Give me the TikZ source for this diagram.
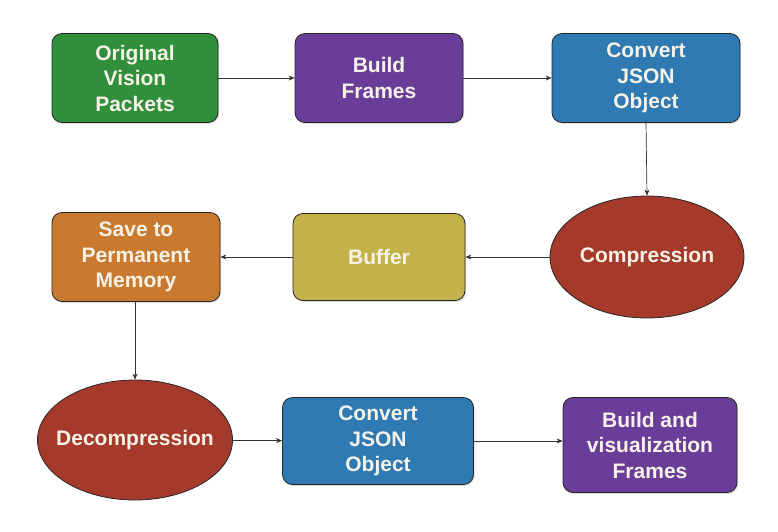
\documentclass[tikz,border=0pt]{standalone}
\usepackage{fontspec}
\setsansfont{Liberation Sans}
\usetikzlibrary{shapes.geometric, arrows.meta, positioning, shadows}

\definecolor{boxgreen}{RGB}{47,143,58}
\definecolor{boxpurple}{RGB}{106,61,152}
\definecolor{boxblue}{RGB}{47,122,179}
\definecolor{boxred}{RGB}{165,58,42}
\definecolor{boxyellow}{RGB}{195,178,74}
\definecolor{boxorange}{RGB}{201,122,46}
\definecolor{boxtext}{RGB}{246,242,232}

\begin{document}
\begin{tikzpicture}[
    x=1pt, y=-1pt,
    >={Stealth[length=6pt,width=5pt]},
    % rounded block
    block/.style={rectangle, rounded corners=10pt, draw=black!85, line width=0.8pt,
        minimum width=166pt, minimum height=89pt, inner sep=0pt, align=center,
        text=boxtext, font=\sffamily\bfseries\fontsize{21}{25.5}\selectfont,
        drop shadow={opacity=0.25, shadow xshift=1.2pt, shadow yshift=-1.5pt}},
    % ellipse step
    oval/.style={ellipse, draw=black!85, line width=0.8pt,
        minimum width=194pt, minimum height=122pt, inner xsep=-12pt, inner ysep=0pt, align=center,
        fill=boxred, text=boxtext, font=\sffamily\bfseries\fontsize{21}{25.5}\selectfont},
    link/.style={->, line width=0.7pt, draw=black!80}
]
\useasboundingbox (0,0) rectangle (778,531);

% row 1
\node [block, fill=boxgreen] (packets) at (135,78) {Original\\Vision\\Packets};
\node [block, fill=boxpurple, minimum width=168pt] (frames) at (379,78) {Build\\Frames};
\node [block, fill=boxblue, minimum width=188pt] (json1) at (646,78) {Convert\\JSON\\Object};

% row 2
\node [oval] (compress) at (647,257) {Compression};
\node [block, fill=boxyellow, minimum width=172pt, minimum height=87pt] (buffer) at (379,257) {Buffer};
\node [block, fill=boxorange, minimum width=168pt] (memory) at (136,257) {Save to\\Permanent\\Memory};

% row 3
\node [oval, minimum width=195pt, minimum height=120pt] (decompress) at (135,440) {Decompression};
\node [block, fill=boxblue, minimum width=191pt, minimum height=87pt] (json2) at (378,441) {Convert\\JSON\\Object};
\node [block, fill=boxpurple, minimum width=174pt, minimum height=95pt] (visual) at (650,445) {Build and\\visualization\\Frames};

% connectors
\draw [link] (packets) -- (frames);
\draw [link] (frames) -- (json1);
\draw [link] (json1.south) -- (compress.north);
\draw [link] (compress) -- (buffer);
\draw [link] (buffer) -- (memory);
\draw [link] (memory.south -| 135,0) -- (decompress.north);
\draw [link] (decompress) -- (json2);
\draw [link] (json2.east) -- (json2.east -| visual.west);

\end{tikzpicture}
\end{document}
